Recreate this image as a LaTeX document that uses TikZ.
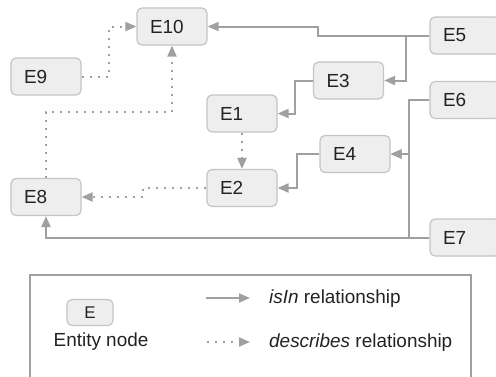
\documentclass[tikz,border=0pt]{standalone}
\usepackage{fontspec}
\setmainfont{Liberation Sans}
\usepackage{tikz}
\usetikzlibrary{arrows.meta}
\definecolor{edgegray}{HTML}{A0A0A0}
\definecolor{boxfill}{HTML}{EEEEEE}
\definecolor{boxline}{HTML}{C4C4C4}
\definecolor{textdark}{HTML}{222222}

\begin{document}
\begin{tikzpicture}[x=1bp,y=-1bp,
    font=\fontsize{19}{22}\selectfont,
    entity/.style={draw=boxline,fill=boxfill,rounded corners=5bp,line width=1.2bp,
      text=textdark,inner xsep=13bp,text width=44bp,align=left,minimum height=37bp},
    isin/.style={draw=edgegray,line width=2bp,-{Triangle[length=11bp,width=9bp]}},
    describes/.style={draw=edgegray,line width=2bp,dash pattern=on 2bp off 6bp,
      -{Triangle[length=11bp,width=9bp]}}]
  \useasboundingbox (0,0) rectangle (496,376);

  % entities
  \node[entity] (E10) at (172,26.5) {E10};
  \node[entity] (E9) at (46,76.5) {E9};
  \node[entity] (E1) at (242,113.5) {E1};
  \node[entity] (E3) at (348.5,80.5) {E3};
  \node[entity] (E5) at (465,35.5) {E5};
  \node[entity] (E6) at (465,100) {E6};
  \node[entity] (E4) at (355,154) {E4};
  \node[entity] (E2) at (242,188) {E2};
  \node[entity] (E8) at (46,197) {E8};
  \node[entity] (E7) at (465,237.5) {E7};

  % isIn
  \draw[isin] (E5.west) -- ++(-111,0) |- (E10.east);
  \draw[isin] (E5.west) -- ++(-23,0) |- (E3.east);
  \draw[isin] (E3.west) -- ++(-18,0) |- (E1.east);
  \draw[isin] (E6.west) -- ++(-20,0) |- (E4.east);
  \draw[isin] (E7.west) -- ++(-20,0) |- (E4.east);
  \draw[isin] (E7.west) -| (E8.south);
  \draw[isin] (E4.west) -- ++(-22,0) |- (E2.east);

  % describes
  \draw[describes] (E9.east) -- ++(27,0) |- (E10.west);
  \draw[describes] (E8.north) -- ++(0,-66) -| (E10.south);
  \draw[describes] (E1.south) -- (E2.north);
  \draw[describes] (E2.west) -- ++(-63,0) |- (E8.east);

  % legend
  \draw[edgegray,line width=1.2bp] (30,275) rectangle (471,390);
  \node[entity,text width=,align=center,inner xsep=0bp,minimum width=46bp,
    minimum height=26bp,font=\fontsize{17}{20}\selectfont] (leg) at (90,312.5) {E};
  \node[text=textdark] (legtext) at (101,342) {Entity node};
  \coordinate (s1) at (206,298);
  \coordinate (s2) at (250,298);
  \coordinate (d1) at (207,342);
  \coordinate (d2) at (250,342);
  \draw[isin] (s1) -- (s2);
  \draw[describes] (d1) -- (d2);
  \node[anchor=west,inner sep=0pt,text=textdark] (islab) at (269,299) {\textit{isIn} relationship};
  \node[anchor=west,inner sep=0pt,text=textdark] (desclab) at (269,343) {\textit{describes} relationship};
\end{tikzpicture}
\end{document}
